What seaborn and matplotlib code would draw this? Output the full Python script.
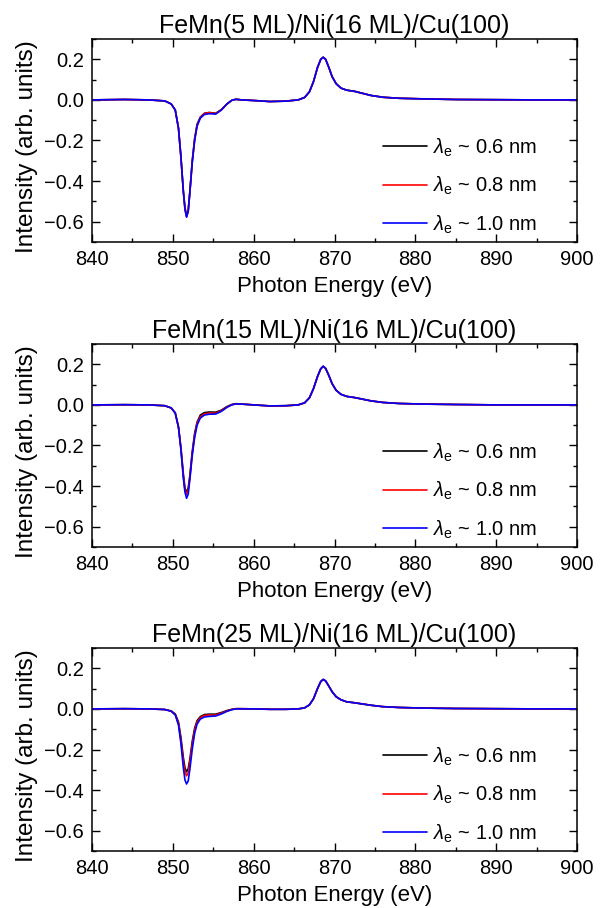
import numpy as np
import pandas as pd
import matplotlib
matplotlib.use("Agg")
import matplotlib.pyplot as plt
import seaborn as sns
from matplotlib.ticker import MultipleLocator

sns.set_theme(style="ticks")
plt.rcParams['font.family'] = ['Liberation Sans', 'DejaVu Sans']
plt.rcParams['mathtext.fontset'] = 'custom'
plt.rcParams['mathtext.rm'] = 'Liberation Sans'
plt.rcParams['mathtext.it'] = 'Liberation Sans:italic'
plt.rcParams['text.color'] = 'black'
plt.rcParams['axes.labelcolor'] = 'black'
plt.rcParams['xtick.color'] = 'black'
plt.rcParams['ytick.color'] = 'black'

# photon energy grid (eV)
energy = [840, 844, 847, 849, 849.8, 850.3, 850.7, 851.0, 851.3, 851.5, 851.7, 851.9,
          852.1, 852.4, 852.7, 853.0, 853.4, 853.9, 854.5, 855.3, 856.0, 856.7, 857.3,
          857.8, 858.5, 860, 862, 864, 865.5, 866.3, 866.9, 867.4, 867.9, 868.3, 868.6,
          868.9, 869.3, 869.7, 870.2, 870.8, 871.5, 872.5, 873.5, 874.5, 876, 878, 881,
          885, 890, 895, 900]

titles = ["FeMn(5 ML)/Ni(16 ML)/Cu(100)",
          "FeMn(15 ML)/Ni(16 ML)/Cu(100)",
          "FeMn(25 ML)/Ni(16 ML)/Cu(100)"]
labels = [r"$\lambda_{\rm e}$ ~ 0.6 nm", r"$\lambda_{\rm e}$ ~ 0.8 nm", r"$\lambda_{\rm e}$ ~ 1.0 nm"]
colors = ["black", "red", "blue"]

# FeMn 5 ML
p1_06 = [0, 0.002, 0.0, -0.005, -0.02, -0.05, -0.14, -0.28, -0.45, -0.53, -0.57, -0.545,
         -0.455, -0.30, -0.19, -0.12, -0.085, -0.066, -0.062, -0.066, -0.048, -0.02, -0.002,
         0.003, 0.0, -0.003, -0.008, -0.006, 0.0, 0.012, 0.04, 0.09, 0.16, 0.2, 0.21,
         0.2, 0.16, 0.115, 0.08, 0.058, 0.048, 0.042, 0.032, 0.022, 0.013, 0.008, 0.005,
         0.002, 0.001, 0.0, 0.0]
p1_08 = [0, 0.002, 0.0, -0.005, -0.02, -0.05, -0.14, -0.28, -0.45, -0.535, -0.575, -0.548,
         -0.457, -0.305, -0.195, -0.125, -0.087, -0.067, -0.063, -0.067, -0.049, -0.02, -0.002,
         0.003, 0.0, -0.003, -0.008, -0.006, 0.0, 0.012, 0.04, 0.09, 0.16, 0.2, 0.21,
         0.2, 0.16, 0.115, 0.08, 0.058, 0.048, 0.042, 0.032, 0.022, 0.013, 0.008, 0.005,
         0.002, 0.001, 0.0, 0.0]
p1_10 = [0, 0.002, 0.0, -0.005, -0.02, -0.05, -0.14, -0.28, -0.45, -0.54, -0.578, -0.55,
         -0.46, -0.31, -0.2, -0.13, -0.09, -0.072, -0.068, -0.07, -0.05, -0.02, -0.002,
         0.003, 0.0, -0.003, -0.008, -0.006, 0.0, 0.012, 0.04, 0.09, 0.16, 0.2, 0.21,
         0.2, 0.16, 0.115, 0.08, 0.058, 0.048, 0.042, 0.032, 0.022, 0.013, 0.008, 0.005,
         0.002, 0.001, 0.0, 0.0]

# FeMn 15 ML
p2_06 = [0, 0.001, 0.0, -0.004, -0.015, -0.04, -0.11, -0.21, -0.34, -0.41, -0.43, -0.41,
         -0.35, -0.23, -0.14, -0.085, -0.05, -0.038, -0.035, -0.036, -0.026, -0.008, 0.002,
         0.006, 0.004, 0.0, -0.005, -0.004, 0.0, 0.01, 0.035, 0.08, 0.14, 0.178, 0.19,
         0.18, 0.145, 0.105, 0.072, 0.052, 0.042, 0.036, 0.028, 0.02, 0.012, 0.007, 0.004,
         0.002, 0.0, 0.0, 0.0]
p2_08 = [0, 0.001, 0.0, -0.004, -0.015, -0.04, -0.11, -0.215, -0.35, -0.42, -0.44, -0.42,
         -0.36, -0.24, -0.15, -0.09, -0.058, -0.044, -0.04, -0.041, -0.029, -0.01, 0.001,
         0.005, 0.004, 0.0, -0.005, -0.004, 0.0, 0.01, 0.035, 0.08, 0.14, 0.178, 0.19,
         0.18, 0.145, 0.105, 0.072, 0.052, 0.042, 0.036, 0.028, 0.02, 0.012, 0.007, 0.004,
         0.002, 0.0, 0.0, 0.0]
p2_10 = [0, 0.001, 0.0, -0.004, -0.015, -0.04, -0.11, -0.22, -0.36, -0.43, -0.46, -0.44,
         -0.37, -0.25, -0.16, -0.1, -0.065, -0.05, -0.046, -0.045, -0.032, -0.012, 0.0,
         0.005, 0.004, 0.0, -0.005, -0.004, 0.0, 0.01, 0.035, 0.08, 0.14, 0.178, 0.19,
         0.18, 0.145, 0.105, 0.072, 0.052, 0.042, 0.036, 0.028, 0.02, 0.012, 0.007, 0.004,
         0.002, 0.0, 0.0, 0.0]

# FeMn 25 ML
p3_06 = [0, 0.001, 0.0, -0.003, -0.01, -0.025, -0.065, -0.14, -0.24, -0.29, -0.31, -0.295,
         -0.25, -0.16, -0.095, -0.058, -0.038, -0.028, -0.026, -0.026, -0.018, -0.008, -0.002,
         0.001, 0.001, 0.0, -0.002, -0.002, 0.0, 0.005, 0.02, 0.05, 0.1, 0.135, 0.145,
         0.138, 0.112, 0.085, 0.06, 0.045, 0.035, 0.03, 0.024, 0.018, 0.011, 0.007, 0.004,
         0.002, 0.001, 0.0, 0.0]
p3_08 = [0, 0.001, 0.0, -0.003, -0.011, -0.028, -0.072, -0.155, -0.26, -0.31, -0.33, -0.315,
         -0.265, -0.175, -0.105, -0.065, -0.043, -0.032, -0.03, -0.03, -0.021, -0.01, -0.003,
         0.001, 0.001, 0.0, -0.002, -0.002, 0.0, 0.005, 0.02, 0.05, 0.1, 0.135, 0.145,
         0.138, 0.112, 0.085, 0.06, 0.045, 0.035, 0.03, 0.024, 0.018, 0.011, 0.007, 0.004,
         0.002, 0.001, 0.0, 0.0]
p3_10 = [0, 0.001, 0.0, -0.003, -0.012, -0.03, -0.08, -0.17, -0.29, -0.35, -0.37, -0.355,
         -0.3, -0.2, -0.12, -0.075, -0.05, -0.04, -0.037, -0.035, -0.025, -0.012, -0.004,
         0.0, 0.0, 0.0, -0.002, -0.002, 0.0, 0.005, 0.02, 0.05, 0.1, 0.135, 0.145,
         0.138, 0.112, 0.085, 0.06, 0.045, 0.035, 0.03, 0.024, 0.018, 0.011, 0.007, 0.004,
         0.002, 0.001, 0.0, 0.0]

panels = [[p1_06, p1_08, p1_10], [p2_06, p2_08, p2_10], [p3_06, p3_08, p3_10]]

fig = plt.figure(figsize=(6, 9.08), dpi=100)
tops = [39, 344, 648]
for i in range(3):
    top = tops[i]
    ax = fig.add_axes([92 / 600, 1 - (top + 203) / 908, 485 / 600, 203 / 908])
    rows = []
    for lab, ys in zip(labels, panels[i]):
        for e, y in zip(energy, ys):
            rows.append({"E": e, "I": y, "lam": lab})
    d = pd.DataFrame(rows)
    sns.lineplot(data=d, x="E", y="I", hue="lam", palette=colors, linewidth=1.2,
                 ax=ax, sort=False, estimator=None)
    ax.set_xlim(840, 900)
    ax.set_ylim(-0.7, 0.3)
    ax.xaxis.set_major_locator(MultipleLocator(10))
    ax.xaxis.set_minor_locator(MultipleLocator(5))
    ax.yaxis.set_major_locator(MultipleLocator(0.2))
    ax.yaxis.set_minor_locator(MultipleLocator(0.1))
    ax.tick_params(which="both", direction="in", top=True, right=True, width=1.0,
                   labelsize=14.5, pad=6, color="black")
    ax.tick_params(which="major", length=6)
    ax.tick_params(which="minor", length=3)
    for s in ax.spines.values():
        s.set_linewidth(1.1)
        s.set_color("black")
    ax.set_title(titles[i], fontsize=18, pad=4)
    ax.set_xlabel("Photon Energy (eV)", fontsize=16, labelpad=5)
    ax.set_ylabel("Intensity (arb. units)", fontsize=17.5)
    ax.yaxis.set_label_coords(-0.111, 0.468)
    ax.legend(loc="center left", bbox_to_anchor=(0.6, 0.276), frameon=False,
              fontsize=14.5, handlelength=2.2, handletextpad=0.3, labelspacing=0.8,
              borderpad=0, borderaxespad=0)

fig.savefig("out.png", dpi=100)
